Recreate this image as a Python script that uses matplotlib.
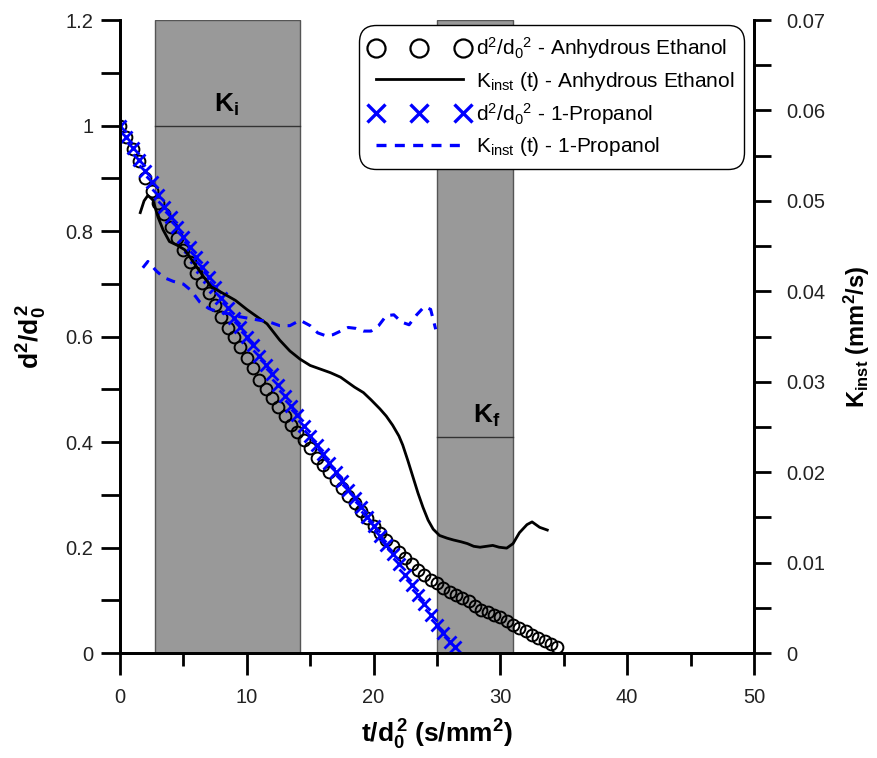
import matplotlib
matplotlib.use("Agg")
import matplotlib.pyplot as plt
from matplotlib.lines import Line2D

plt.rcParams['font.family'] = 'Liberation Sans'
plt.rcParams['mathtext.fontset'] = 'custom'
plt.rcParams['mathtext.rm'] = 'Liberation Sans'
plt.rcParams['mathtext.it'] = 'Liberation Sans:italic'
plt.rcParams['mathtext.bf'] = 'Liberation Sans:bold'

# d2/d0^2 - Anhydrous Ethanol (circles)
eth_t = [0, 0.5, 1, 1.5, 2, 2.5, 3, 3.5, 4, 4.5, 5, 5.5, 6, 6.5, 7, 7.5, 8, 8.5, 9, 9.5,
         10, 10.5, 11, 11.5, 12, 12.5, 13, 13.5, 14, 14.5, 15, 15.5, 16, 16.5, 17, 17.5,
         18, 18.5, 19, 19.5, 20, 20.5, 21, 21.5, 22, 22.5, 23, 23.5, 24, 24.5, 25, 25.5,
         26, 26.5, 27, 27.5, 28, 28.5, 29, 29.5, 30, 30.5, 31, 31.5, 32, 32.5, 33, 33.5,
         34, 34.5]
eth_d2 = [1.000, 0.978, 0.955, 0.932, 0.900, 0.876, 0.854, 0.832, 0.808, 0.787, 0.764,
          0.741, 0.720, 0.702, 0.683, 0.660, 0.637, 0.617, 0.600, 0.581, 0.559, 0.540,
          0.518, 0.501, 0.483, 0.467, 0.450, 0.433, 0.419, 0.403, 0.388, 0.370, 0.357,
          0.343, 0.328, 0.312, 0.298, 0.284, 0.270, 0.256, 0.241, 0.227, 0.214, 0.202,
          0.191, 0.180, 0.168, 0.157, 0.147, 0.139, 0.132, 0.124, 0.116, 0.110, 0.104,
          0.098, 0.090, 0.082, 0.077, 0.072, 0.068, 0.061, 0.054, 0.047, 0.041, 0.035,
          0.029, 0.023, 0.018, 0.012]

# d2/d0^2 - 1-Propanol (crosses)
prop_t = [0, 0.5, 1, 1.5, 2, 2.5, 3, 3.5, 4, 4.5, 5, 5.5, 6, 6.5, 7, 7.5, 8, 8.5, 9, 9.5,
          10, 10.5, 11, 11.5, 12, 12.5, 13, 13.5, 14, 14.5, 15, 15.5, 16, 16.5, 17, 17.5,
          18, 18.5, 19, 19.5, 20, 20.5, 21, 21.5, 22, 22.5, 23, 23.5, 24, 24.5, 25, 25.5,
          26, 26.4]
prop_d2 = [1.000, 0.978, 0.957, 0.935, 0.914, 0.892, 0.868, 0.846, 0.826, 0.808, 0.789,
           0.770, 0.750, 0.731, 0.712, 0.694, 0.673, 0.654, 0.636, 0.618, 0.600, 0.584,
           0.564, 0.546, 0.528, 0.509, 0.488, 0.469, 0.451, 0.431, 0.412, 0.394, 0.378,
           0.360, 0.343, 0.326, 0.309, 0.294, 0.276, 0.258, 0.240, 0.222, 0.205, 0.187,
           0.168, 0.148, 0.129, 0.110, 0.092, 0.073, 0.054, 0.037, 0.020, 0.012]

# K_inst(t) - Anhydrous Ethanol
eth_kt = [1.6, 1.9, 2.2, 2.6, 3.0, 3.4, 3.9, 4.5, 5.1, 5.8, 6.6, 7.2, 8.1, 9.1, 10.0, 10.8,
          11.6, 12.6, 13.4, 14.2, 15.0, 15.8, 16.6, 17.4, 17.9, 18.5, 19.2, 19.8, 20.5,
          21.0, 21.5, 22.0, 22.3, 22.7, 23.1, 23.5, 23.9, 24.3, 24.7, 25.2, 25.8, 26.3,
          26.9, 27.4, 27.9, 28.4, 28.9, 29.4, 29.9, 30.5, 31.0, 31.5, 32.1, 32.5, 33.1, 33.7]
eth_k = [0.0487, 0.0500, 0.0506, 0.0501, 0.0482, 0.0468, 0.0455, 0.0451, 0.0446, 0.0432,
         0.0416, 0.0405, 0.0398, 0.0390, 0.0380, 0.0372, 0.0364, 0.0346, 0.0334, 0.0325,
         0.0318, 0.0314, 0.0310, 0.0305, 0.0300, 0.0294, 0.0288, 0.0280, 0.0270, 0.0262,
         0.0252, 0.0240, 0.0230, 0.0213, 0.0195, 0.0177, 0.0161, 0.0147, 0.0137, 0.0130,
         0.0127, 0.0125, 0.0123, 0.0121, 0.0118, 0.0117, 0.0118, 0.0119, 0.0117, 0.0116,
         0.0121, 0.0133, 0.0142, 0.0145, 0.0139, 0.0136]

# K_inst(t) - 1-Propanol
prop_kt = [1.8, 2.2, 2.9, 3.5, 4.2, 5.0, 5.6, 6.3, 7.0, 7.8, 8.6, 9.4, 10.2, 11.0, 11.8,
           12.6, 13.4, 14.2, 15.0, 15.6, 16.2, 16.8, 17.4, 18.0, 18.6, 19.2, 19.8, 20.4,
           21.0, 21.6, 22.2, 22.8, 23.4, 24.0, 24.5, 24.9]
prop_k = [0.0426, 0.0433, 0.0422, 0.0415, 0.0411, 0.0408, 0.0401, 0.0388, 0.0381, 0.0377,
          0.0375, 0.0372, 0.0370, 0.0368, 0.0366, 0.0362, 0.0362, 0.0368, 0.0362, 0.0354,
          0.0351, 0.0352, 0.0356, 0.0360, 0.0359, 0.0356, 0.0356, 0.0362, 0.0373, 0.0374,
          0.0366, 0.0363, 0.0374, 0.0383, 0.0380, 0.0358]

# shaded regions: (start, end, divider level, label, label x, label y)
regions = [(2.8, 14.2, 1.0, r'$\mathbf{K_i}$', 8.4, 1.04),
           (25.0, 31.0, 0.41, r'$\mathbf{K_f}$', 28.9, 0.45)]

fig = plt.figure(figsize=(8.77, 7.58), dpi=100)
ax = fig.add_axes([0.1368, 0.1385, 0.7229, 0.8351])
ax2 = ax.twinx()

for x0, x1, lvl, lab, lx, ly in regions:
    ax.axvspan(x0, x1, facecolor='#999999', edgecolor='#555555', linewidth=1, zorder=0)
    ax.plot([x0, x1], [lvl, lvl], color='#333333', linewidth=1, zorder=1)
    ax.text(lx, ly, lab, fontsize=19, ha='center', va='center', zorder=2)

ax.plot(eth_t, eth_d2, linestyle='none', marker='o', markersize=8.5, markerfacecolor='none',
        markeredgecolor='black', markeredgewidth=1.4, zorder=3)
ax.plot(prop_t, prop_d2, linestyle='none', marker='x', markersize=8.5, color='blue',
        markeredgewidth=2, zorder=4)

ax2.plot(eth_kt, eth_k, color='black', linewidth=2)
ax2.plot(prop_kt, prop_k, color='blue', linewidth=2.2, linestyle=(0, (3, 2.5)))

ax.set_xlim(0, 50)
ax.set_ylim(0, 1.2)
ax2.set_ylim(0, 0.07)
ax.set_xticks([0, 10, 20, 30, 40, 50])
ax.set_xticks([5, 15, 25, 35, 45], minor=True)
ax.set_yticks([0, 0.2, 0.4, 0.6, 0.8, 1.0, 1.2])
ax.set_yticklabels(['0', '0.2', '0.4', '0.6', '0.8', '1', '1.2'])
ax.set_yticks([0.1, 0.3, 0.5, 0.7, 0.9, 1.1], minor=True)
ax2.set_yticks([0, 0.01, 0.02, 0.03, 0.04, 0.05, 0.06, 0.07])
ax2.set_yticklabels(['0', '0.01', '0.02', '0.03', '0.04', '0.05', '0.06', '0.07'])
ax2.set_yticks([0.005, 0.015, 0.025, 0.035, 0.045, 0.055, 0.065], minor=True)

for a in (ax, ax2):
    a.spines['top'].set_visible(False)
    for s in a.spines.values():
        s.set_linewidth(2)
ax.tick_params(axis='x', which='major', direction='out', length=16, width=2, labelsize=14.5,
               pad=9, labelcolor='#222222')
ax.tick_params(axis='x', which='minor', direction='out', length=9, width=2)
ax.tick_params(axis='y', which='both', direction='out', length=14, width=2, labelsize=14.5,
               pad=5, labelcolor='#222222')
ax2.tick_params(axis='y', which='both', direction='out', length=12, width=2, labelsize=14.5,
                pad=11, labelcolor='#222222')

ax.set_xlabel(r'$\mathbf{t/d_0^{\,2}\ (s/mm^2)}$', fontsize=19, labelpad=8)
ax.set_ylabel(r'$\mathbf{d^2/d_0^{\,2}}$', fontsize=19, labelpad=12)
ax2.set_ylabel(r'$\mathbf{K_{inst}\ (mm^2/s)}$', fontsize=17, labelpad=12)

handles = [Line2D([], [], linestyle='none', marker='o', markersize=13, markerfacecolor='none',
                  markeredgecolor='black', markeredgewidth=1.6),
           Line2D([], [], color='black', linewidth=2),
           Line2D([], [], linestyle='none', marker='x', markersize=13, color='blue',
                  markeredgewidth=2.4),
           Line2D([], [], color='blue', linewidth=2.4, linestyle=(0, (3, 2.5)))]
labels = [r'd$^2$/d$_0$$^2$ - Anhydrous Ethanol',
          r'K$_{\mathrm{inst}}$ (t) - Anhydrous Ethanol',
          r'd$^2$/d$_0$$^2$ - 1-Propanol',
          r'K$_{\mathrm{inst}}$ (t) - 1-Propanol']
leg = ax2.legend(handles, labels, loc='upper right', bbox_to_anchor=(0.985, 0.992),
                 numpoints=3, handlelength=4.8, handletextpad=0.3, fontsize=15,
                 frameon=True, fancybox=True, framealpha=1, edgecolor='black',
                 borderpad=0.5, labelspacing=0.4, borderaxespad=0)
leg.get_frame().set_linewidth(1)
leg.get_frame().set_boxstyle('round', pad=0, rounding_size=0.8)

fig.savefig('out.png', dpi=100)
